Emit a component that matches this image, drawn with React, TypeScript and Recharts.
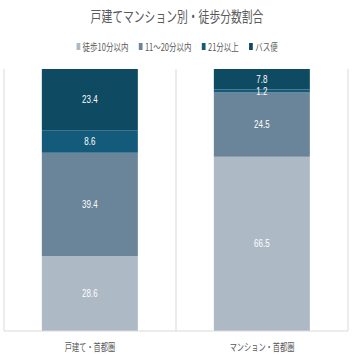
import { BarChart, Bar, XAxis, YAxis, CartesianGrid, LabelList } from "recharts";

const categories = ["戸建て・首都圏", "マンション・首都圏"];
const walk10 = [28.6, 66.5];
const walk20 = [39.4, 24.5];
const walk21 = [8.6, 1.2];
const bus = [23.4, 7.8];

const seriesNames = ["徒歩10分以内", "11～20分以内", "21分以上", "バス便"];
const colors = ["#adb9c4", "#6a8499", "#145a7a", "#0f4a63"];

const data = categories.map((name, i) => ({
  name,
  walk10: walk10[i],
  walk20: walk20[i],
  walk21: walk21[i],
  bus: bus[i],
}));

const keys = ["walk10", "walk20", "walk21", "bus"];

const FONT = "'Noto Sans CJK JP', 'Noto Sans', sans-serif";

const XTick = ({ x, y, payload }: any) => (
  <text
    transform={`translate(${x},${y + 12}) scale(0.72,1)`}
    textAnchor="middle"
    fontSize={10}
    fill="#595959"
    fontFamily={FONT}
  >
    {payload.value}
  </text>
);

const ValueLabel = ({ x, y, width, height, value }: any) => (
  <text
    transform={`translate(${x + width / 2},${y + height / 2 + 3.5}) scale(0.8,1)`}
    textAnchor="middle"
    fontSize={10}
    fill="#ffffff"
    fontFamily="'Liberation Sans', sans-serif"
  >
    {value.toFixed(1)}
  </text>
);

export default function App() {
  return (
    <div style={{ position: "absolute", left: 0, top: 0, width: 355, height: 355, background: "#fff" }}>
      <div
        style={{
          position: "absolute",
          top: 5,
          left: 0,
          width: 355,
          textAlign: "center",
          fontFamily: FONT,
          fontSize: 15,
          color: "#595959",
        }}
      >
        <span style={{ display: "inline-block", transform: "scaleX(0.72)" }}>
          戸建てマンション別・徒歩分数割合
        </span>
      </div>
      <div
        style={{
          position: "absolute",
          top: 39,
          left: 0,
          width: 355,
          display: "flex",
          justifyContent: "center",
          fontFamily: FONT,
          fontSize: 10,
          color: "#595959",
        }}
      >
        <div style={{ display: "flex", transform: "scaleX(0.75)", gap: 14 }}>
          {seriesNames.map((n, i) => (
            <span key={n} style={{ display: "flex", alignItems: "center" }}>
              <span
                style={{
                  display: "inline-block",
                  width: 5,
                  height: 7,
                  background: colors[i],
                  marginRight: 3,
                }}
              />
              {n}
            </span>
          ))}
        </div>
      </div>
      <BarChart
        width={355}
        height={355}
        data={data}
        margin={{ top: 69, right: 7, left: 4, bottom: 0 }}
        barCategoryGap="22%"
      >
        <CartesianGrid horizontal={false} vertical={true} verticalPoints={[4, 176, 348]} stroke="#d9d9d9" />
        <XAxis
          dataKey="name"
          height={24}
          tick={<XTick />}
          tickLine={false}
          axisLine={{ stroke: "#d9d9d9" }}
        />
        <YAxis hide domain={[0, 100]} />
        {keys.map((k, i) => (
          <Bar key={k} dataKey={k} name={seriesNames[i]} stackId="a" fill={colors[i]} isAnimationActive={false}>
            <LabelList dataKey={k} content={<ValueLabel />} />
          </Bar>
        ))}
      </BarChart>
    </div>
  );
}
